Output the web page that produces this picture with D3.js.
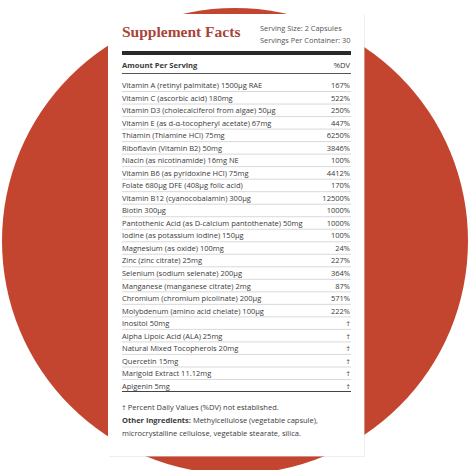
<!DOCTYPE html>
<html><head><meta charset="utf-8">
<script src="https://cdn.jsdelivr.net/npm/d3@7"></script>
<style>body{margin:0;background:#fff}</style>
</head><body>
<svg id="svg1" width="471" height="470"></svg>
<script>
var nutrients = ["Vitamin A (retinyl palmitate) 1500µg RAE","Vitamin C (ascorbic acid) 180mg","Vitamin D3 (cholecalciferol from algae) 50µg","Vitamin E (as  d-α-tocopheryl acetate) 67mg","Thiamin (Thiamine HCl) 75mg","Riboflavin (Vitamin B2) 50mg","Niacin (as nicotinamide) 16mg NE","Vitamin B6 (as pyridoxine HCl) 75mg","Folate 680µg DFE (408µg folic acid)","Vitamin B12 (cyanocobalamin) 300µg","Biotin 300µg","Pantothenic Acid (as D-calcium pantothenate) 50mg","Iodine (as potassium iodine) 150µg","Magnesium (as oxide) 100mg","Zinc (zinc citrate) 25mg","Selenium (sodium selenate) 200µg","Manganese (manganese citrate) 2mg","Chromium (chromium picolinate) 200µg","Molybdenum (amino acid chelate) 100µg","Inositol 50mg","Alpha Lipoic Acid (ALA) 25mg","Natural Mixed Tocopherols 20mg","Quercetin 15mg","Marigold Extract 11.12mg","Apigenin 5mg"];
var dv = ["167%","522%","250%","447%","6250%","3846%","100%","4412%","170%","12500%","1000%","1000%","100%","24%","227%","364%","87%","571%","222%","†","†","†","†","†","†"];

var svg = d3.select('svg');
var font = "'Open Sans', sans-serif";
var ink = "#3a3a3a";

svg.append('circle').attr('cx', 235).attr('cy', 241).attr('r', 233).attr('fill', '#c4452f');
svg.append('rect').attr('x', 109).attr('y', 15).attr('width', 256).attr('height', 442).attr('fill', '#ddd').attr('opacity', 0.5);
svg.append('rect').attr('x', 108).attr('y', 14).attr('width', 256).attr('height', 442).attr('fill', '#fff');

svg.append('text').attr('x', 122).attr('y', 37).text('Supplement Facts')
   .attr('font-family', "'Liberation Serif', serif").attr('font-weight', 'bold')
   .attr('font-size', 15.5).attr('fill', '#a8453a');
svg.append('text').attr('x', 260).attr('y', 31).text('Serving Size: 2 Capsules')
   .attr('font-family', font).attr('font-size', 7.4).attr('fill', '#555');
svg.append('text').attr('x', 260).attr('y', 43).text('Servings Per Container: 30')
   .attr('font-family', font).attr('font-size', 7.4).attr('fill', '#555');

svg.append('rect').attr('x', 122).attr('y', 51).attr('width', 229).attr('height', 4).attr('fill', '#2a2a2a');
svg.append('text').attr('x', 122).attr('y', 68).text('Amount Per Serving')
   .attr('font-family', font).attr('font-weight', 'bold').attr('font-size', 7.6).attr('fill', ink);
svg.append('text').attr('x', 350).attr('y', 68).attr('text-anchor', 'end').text('%DV')
   .attr('font-family', font).attr('font-size', 7.6).attr('fill', ink);
svg.append('line').attr('x1', 122).attr('x2', 351).attr('y1', 73.5).attr('y2', 73.5).attr('stroke', '#555').attr('stroke-width', 1);

var y = d3.scaleBand().domain(nutrients).range([79, 392]);
var rows = svg.selectAll('g.row').data(nutrients).enter().append('g')
   .attr('transform', function(d) { return 'translate(0,' + y(d) + ')'; });
rows.append('text').attr('x', 122).attr('y', y.bandwidth() - 3.3).text(function(d) { return d; })
   .attr('font-family', font).attr('font-size', 7.5).attr('fill', ink);
rows.append('text').attr('x', 350).attr('y', y.bandwidth() - 3.3).attr('text-anchor', 'end')
   .text(function(d, i) { return dv[i]; })
   .attr('font-family', font).attr('font-size', 7.5).attr('fill', ink);
rows.filter(function(d, i) { return i < nutrients.length - 1; }).append('line')
   .attr('x1', 122).attr('x2', 351).attr('y1', y.bandwidth()).attr('y2', y.bandwidth())
   .attr('stroke', '#c8c8c8').attr('stroke-width', 0.7);
svg.append('line').attr('x1', 122).attr('x2', 351).attr('y1', 391.5).attr('y2', 391.5).attr('stroke', '#444').attr('stroke-width', 1);

svg.append('text').attr('x', 122).attr('y', 410).text('† Percent Daily Values (%DV) not established.')
   .attr('font-family', font).attr('font-size', 7.5).attr('fill', ink);
var t = svg.append('text').attr('x', 122).attr('y', 423).attr('font-family', font).attr('font-size', 7.5).attr('fill', ink);
t.append('tspan').attr('font-weight', 'bold').text('Other Ingredients: ');
t.append('tspan').text('Methylcellulose (vegetable capsule),');
svg.append('text').attr('x', 122).attr('y', 436).text('microcrystalline cellulose, vegetable stearate, silica.')
   .attr('font-family', font).attr('font-size', 7.5).attr('fill', ink);
</script>
</body></html>
